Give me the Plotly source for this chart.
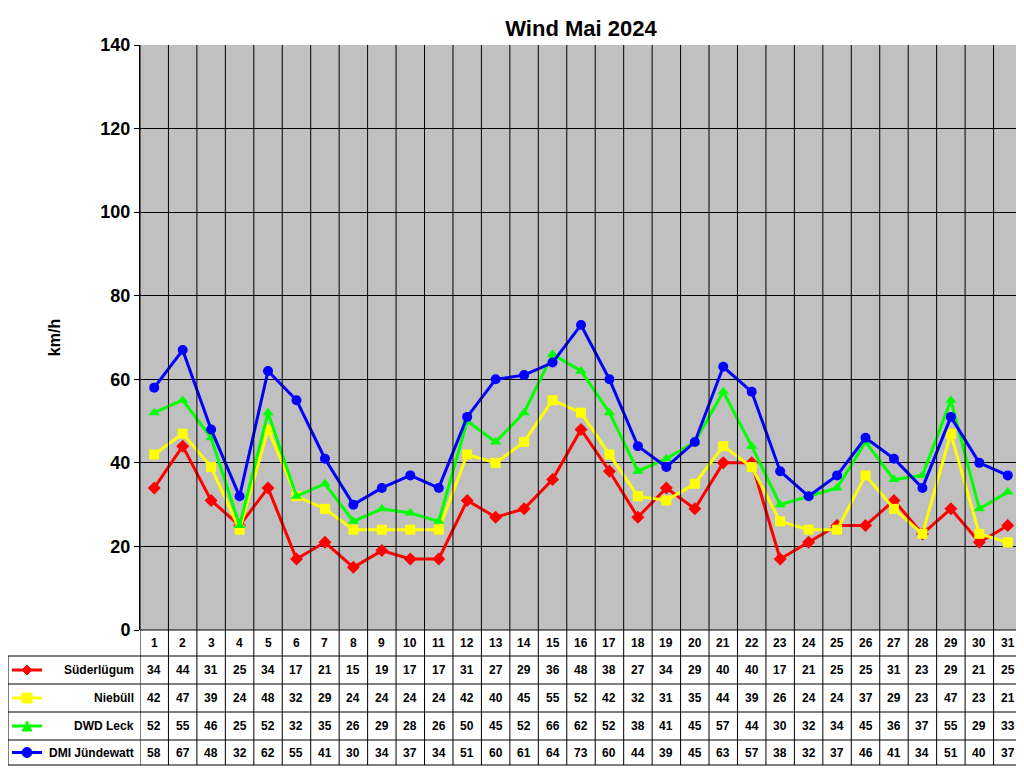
import plotly.graph_objects as go

days = list(range(1, 32))
suederluegum = [34, 44, 31, 25, 34, 17, 21, 15, 19, 17, 17, 31, 27, 29, 36, 48, 38, 27, 34, 29, 40, 40, 17, 21, 25, 25, 31, 23, 29, 21, 25]
niebuell = [42, 47, 39, 24, 48, 32, 29, 24, 24, 24, 24, 42, 40, 45, 55, 52, 42, 32, 31, 35, 44, 39, 26, 24, 24, 37, 29, 23, 47, 23, 21]
dwd_leck = [52, 55, 46, 25, 52, 32, 35, 26, 29, 28, 26, 50, 45, 52, 66, 62, 52, 38, 41, 45, 57, 44, 30, 32, 34, 45, 36, 37, 55, 29, 33]
dmi_juendewatt = [58, 67, 48, 32, 62, 55, 41, 30, 34, 37, 34, 51, 60, 61, 64, 73, 60, 44, 39, 45, 63, 57, 38, 32, 37, 46, 41, 34, 51, 40, 37]

series = [
    ("Süderlügum", suederluegum, "#FF0000", "diamond"),
    ("Niebüll", niebuell, "#FFFF00", "square"),
    ("DWD Leck", dwd_leck, "#00FF00", "triangle-up"),
    ("DMI Jündewatt", dmi_juendewatt, "#0000FF", "circle"),
]

# page has an 8px body margin, so work in figure pixels = screen - 8
OFF = 8
FW, FH = 1016, 760
L, R, T, B = 140 - OFF, 1022 - OFF, 45 - OFF, 630 - OFF
W, H = R - L, B - T
def px(p): return (p - OFF - L) / W
def py(p): return (B - (p - OFF)) / H

row_edges = [630, 656, 684, 712, 740, 765]

fig = go.Figure()
for name, vals, col, sym in series:
    fig.add_trace(go.Scatter(x=days, y=vals, name=name, mode="lines+markers",
                             line=dict(color=col, width=3),
                             marker=dict(color=col, symbol=sym, size=10)))

shapes = []
ann = []
for i in range(0, 32):
    shapes.append(dict(type="line", xref="x", yref="paper", x0=i + 0.5, x1=i + 0.5,
                       y0=py(row_edges[-1]), y1=1, line=dict(color="black", width=1)))
shapes.append(dict(type="line", xref="paper", yref="paper", x0=px(8), x1=px(8),
                   y0=py(row_edges[-1]), y1=py(row_edges[1]), line=dict(color="black", width=1)))
for k, e in enumerate(row_edges):
    x0 = px(140) if k == 0 else px(8)
    shapes.append(dict(type="line", xref="paper", yref="paper", x0=x0, x1=1,
                       y0=py(e), y1=py(e), line=dict(color="black", width=1)))
for d in days:
    ann.append(dict(x=d, y=py((row_edges[0] + row_edges[1]) / 2), xref="x", yref="paper",
                    xanchor="center", yanchor="middle",
                    text=f"<b>{d}</b>", showarrow=False, font=dict(size=12)))
for r, (name, vals, col, sym) in enumerate(series):
    yc = (row_edges[r + 1] + row_edges[r + 2]) / 2
    for d, v in zip(days, vals):
        ann.append(dict(x=d, y=py(yc), xref="x", yref="paper", text=f"<b>{v}</b>",
                        xanchor="center", yanchor="middle",
                        showarrow=False, font=dict(size=12)))
    ann.append(dict(x=px(136), y=py(yc), xref="paper", yref="paper", text=f"<b>{name}</b>",
                    showarrow=False, xanchor="right", yanchor="middle", font=dict(size=12)))
    shapes.append(dict(type="line", xref="paper", yref="paper", x0=px(12), x1=px(42),
                       y0=py(yc), y1=py(yc), line=dict(color=col, width=3)))
    cx, s = 27, 5
    if sym == "diamond":
        path = f"M {px(cx)} {py(yc-s)} L {px(cx+s)} {py(yc)} L {px(cx)} {py(yc+s)} L {px(cx-s)} {py(yc)} Z"
    elif sym == "square":
        path = f"M {px(cx-s)} {py(yc-s)} L {px(cx+s)} {py(yc-s)} L {px(cx+s)} {py(yc+s)} L {px(cx-s)} {py(yc+s)} Z"
    elif sym == "triangle-up":
        path = f"M {px(cx)} {py(yc-s)} L {px(cx+s)} {py(yc+s)} L {px(cx-s)} {py(yc+s)} Z"
    else:
        path = None
    if path:
        shapes.append(dict(type="path", xref="paper", yref="paper", path=path,
                           fillcolor=col, line=dict(color=col, width=1)))
    else:
        shapes.append(dict(type="circle", xref="paper", yref="paper", x0=px(cx-s), x1=px(cx+s),
                           y0=py(yc+s), y1=py(yc-s), fillcolor=col, line=dict(color=col, width=1)))

fig.update_layout(
    width=FW, height=FH, showlegend=False,
    paper_bgcolor="white", plot_bgcolor="#C0C0C0",
    margin=dict(l=L, r=FW - R, t=T, b=FH - B),
    title=dict(text="<b>Wind Mai 2024</b>", x=0.5, xref="paper", y=1 - 20 / FH,
               yanchor="middle", font=dict(family="Arial", size=22, color="black")),
    font=dict(family="Arial", color="black"),
    xaxis=dict(range=[0.5, 31.5], showticklabels=False, showgrid=False, zeroline=False,
               showline=False, ticks=""),
    yaxis=dict(range=[0, 140], dtick=20, showgrid=True, gridcolor="black", gridwidth=1,
               zeroline=False, showline=True, linecolor="black", ticks="outside",
               ticklen=5, tickcolor="black",
               tickfont=dict(size=18, family="Arial", weight="bold"), tickformat="d",
               title=dict(text="<b>km/h</b>", font=dict(size=16), standoff=35)),
    shapes=shapes, annotations=ann,
)
fig.write_html("out.html")
